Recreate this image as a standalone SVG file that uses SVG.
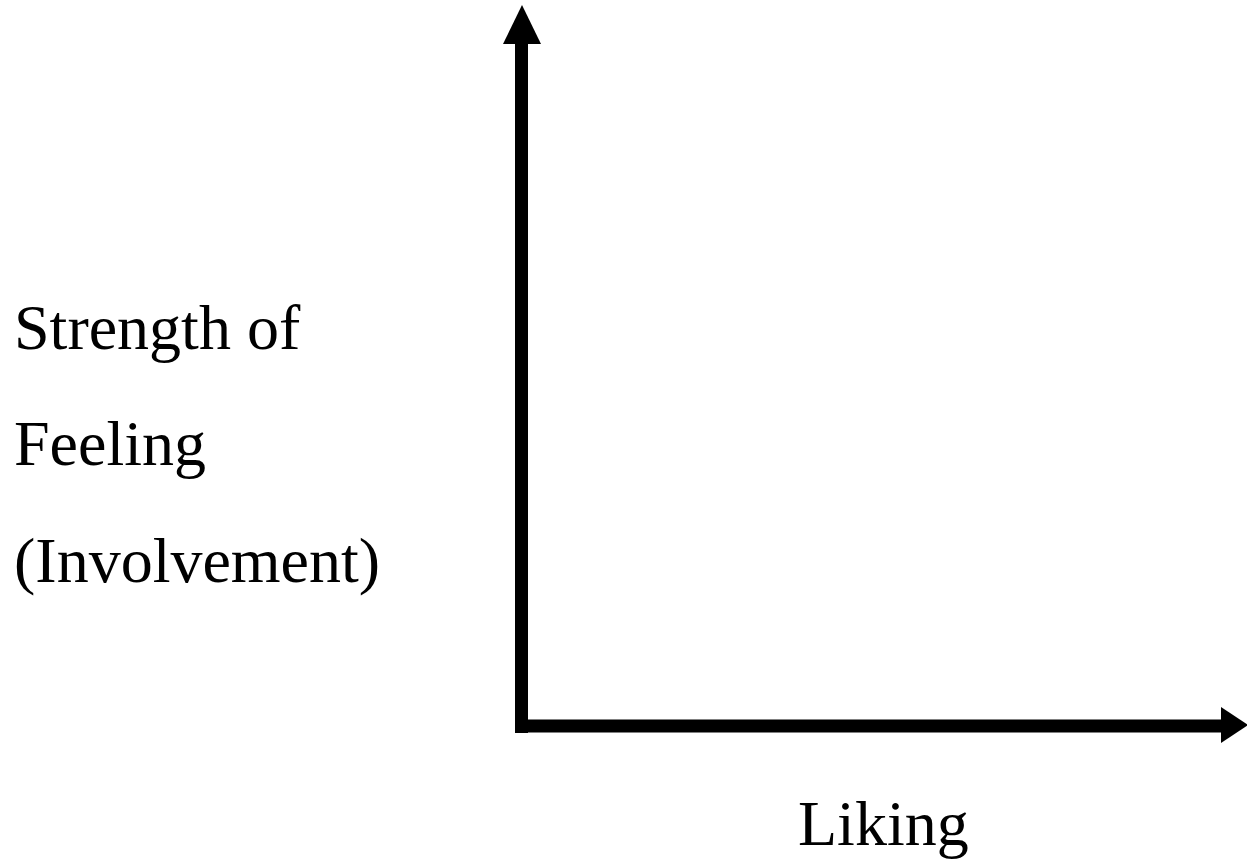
<svg xmlns="http://www.w3.org/2000/svg" width="1247" height="859" viewBox="0 0 1247 859">
<style>
.lbl{font-family:"Liberation Serif","Times New Roman",serif;font-size:64px;fill:#000}
.ax{stroke:#000;stroke-width:13;fill:none}
.hd{fill:#000}
</style>
<rect width="1247" height="859" fill="#fff"/>
<g id="connectors">
<line class="ax" x1="521.5" y1="40" x2="521.5" y2="733"/>
<polygon class="hd" points="522,5 503,44 541,44"/>
<line class="ax" x1="515" y1="726" x2="1224" y2="726"/>
<polygon class="hd" points="1221,707 1248,725 1221,743"/>
</g>
<g id="y-label">
<text class="lbl" x="14" y="349">Strength of</text>
<text class="lbl" x="14" y="465">Feeling</text>
<text class="lbl" x="14" y="582">(Involvement)</text>
</g>
<g id="x-label">
<text class="lbl" x="798" y="845">Liking</text>
</g>
</svg>
